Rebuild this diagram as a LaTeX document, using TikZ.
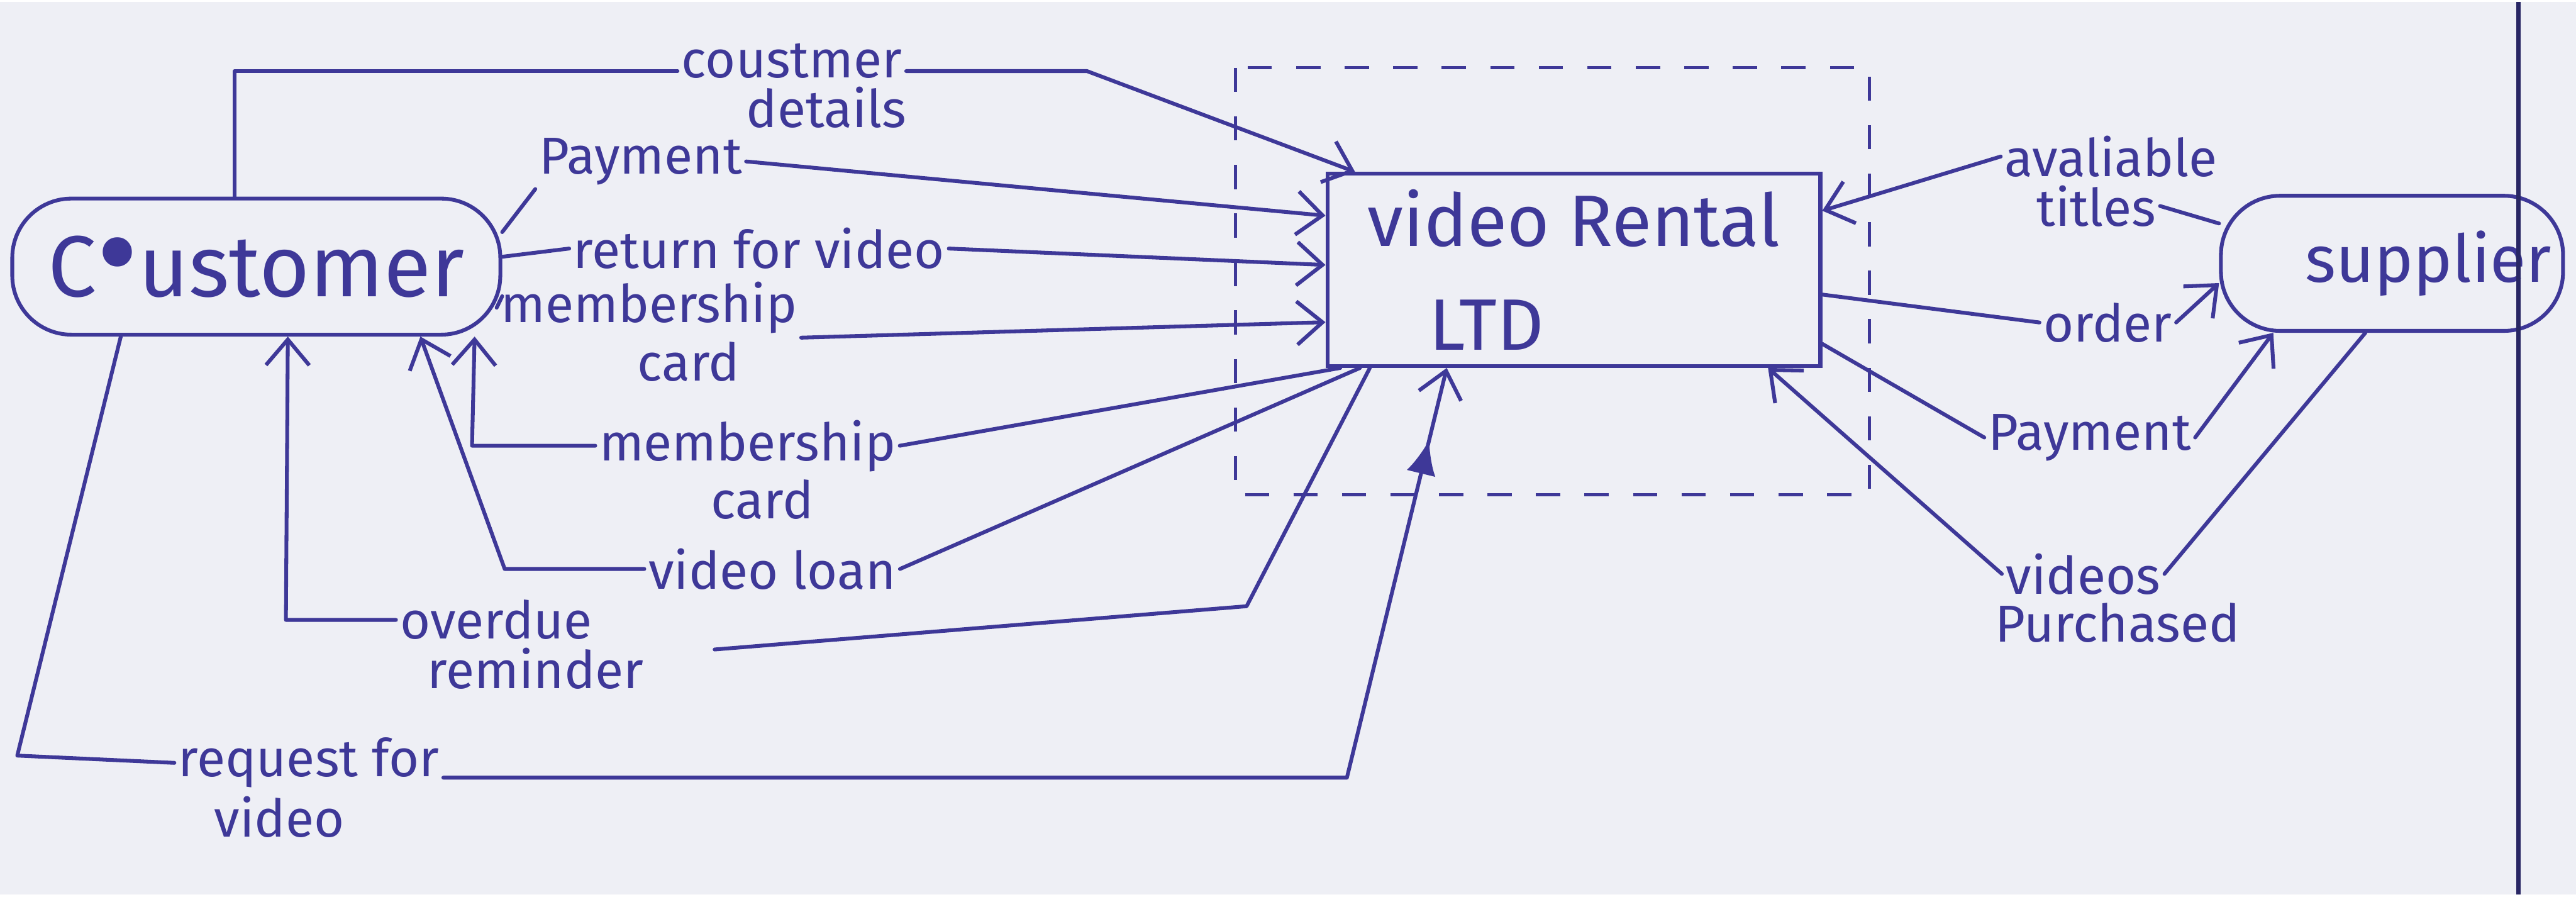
\documentclass[tikz,border=0pt]{standalone}
\usepackage{fontspec}
\setmainfont{Fira Sans}
\usetikzlibrary{arrows.meta,decorations.markings}
\definecolor{ink}{RGB}{62,56,152}
\definecolor{paper}{RGB}{238,239,245}
\definecolor{margin}{RGB}{40,38,100}

\begin{document}
\begin{tikzpicture}[x=0.016667cm, y=-0.016667cm,
  every node/.style={text=ink, font=\fontsize{15}{16}\selectfont, inner sep=1pt},
  every label/.style={label distance=0pt},
  box/.style={draw=ink, line width=1.1pt, font=\fontsize{25}{28}\selectfont},
  flow/.style={draw=ink, line width=1.1pt, line cap=round, line join=round},
  >={Straight Barb[length=2.6mm,width=4.4mm]}]
\fill[paper] (0,0) rectangle (1568,543);

\node[box, rounded corners=0.6cm, minimum width=4.95cm, minimum height=1.38cm] (cust) at (156,161) {C\scalebox{1.5}{\textbullet}ustomer};
\node[box, minimum width=5cm, minimum height=1.95cm, align=center, font=\fontsize{21}{30}\selectfont] (vrl) at (958,163) {video Rental\\LTD\hspace*{1.77cm}};
\node[box, rounded corners=0.6cm, minimum width=3.47cm, minimum height=1.37cm, font=\fontsize{19}{22}\selectfont] (sup) at (1456,159) {\hspace*{0.74cm}supplier};

\node[label={[xshift=0.35cm]below:details}] (cdet) at (482,36) {coustmer};
\node (pay) at (390,97) {Payment};
\node (ret) at (462,150) {return for video};
\node[label={[xshift=0.4cm]below:card}] (memin) at (395,186) {membership};
\node[label={[xshift=0.15cm]below:card}] (memout) at (455,270) {membership};
\node (loan) at (470,345) {video loan};
\node[label={[xshift=0.4cm]below:reminder}] (over) at (302,376) {overdue};
\node[label={[xshift=-0.3cm]below:video}] (req) at (188,463) {request for};
\node[label={[name=titlb, xshift=-0.15cm]below:titles}] (titl) at (1285,94) {avaliable};
\node (ord) at (1283,195) {order};
\node (paysup) at (1272,265) {Payment};
\node[label={[xshift=0.35cm]below:Purchased}] (vpur) at (1268,348) {videos};

\draw[ink, line width=0.9pt, dash pattern=on 7pt off 7pt] (752,40) rectangle (1138,300);
\draw[margin, line width=1.2pt] (1533,0) -- (1533,543);

\draw[flow] ([xshift=-0.22cm]cust.north) |- ([yshift=-0.1cm]cdet.west);
\draw[flow, ->] ([yshift=-0.1cm]cdet.east) -- ++(110,0) -- ([xshift=0.3cm]vrl.north west);
\draw[flow] ([yshift=0.35cm]cust.east) -- (pay.south west);
\draw[flow, ->] (pay.east) -- ([yshift=0.55cm]vrl.west);
\draw[flow] ([yshift=0.1cm]cust.east) -- (ret.west);
\draw[flow, ->] (ret.east) -- ([yshift=0.05cm]vrl.west);
\draw[flow] ([yshift=-0.3cm]cust.east) -- (memin.west);
\draw[flow, ->] (memin.south east) -- ([yshift=-0.53cm]vrl.west);
\draw[flow] ([xshift=0.15cm]vrl.south west) -- (memout.east);
\draw[flow, ->] (memout.west) -- ++(-75,0) -- ([xshift=-0.28cm]cust.south east);
\draw[flow] ([xshift=0.35cm]vrl.south west) -- (loan.east);
\draw[flow, ->] (loan.west) -- ++(-85,0) -- ([xshift=-0.83cm]cust.south east);
\draw[flow] ([xshift=0.45cm]vrl.south west) -- ++(-75,145) -- ([xshift=1.2cm, yshift=-0.3cm]over.east);
\draw[flow, ->] (over.west) -- ++(-67,0) -- ([xshift=0.32cm]cust.south);
\draw[flow] ([xshift=1.12cm]cust.south west) -- ++(-63,255) -- (req.west);
\draw[flow, ->, postaction={decorate, decoration={markings, mark=at position -0.75cm with {\arrow{Latex[length=3.5mm,width=3mm]}}}}] ([yshift=-0.15cm]req.east) -- ++(550,0) -- ([xshift=1.23cm]vrl.south west);

\draw[flow] (titlb.east) -- ([yshift=-0.3cm]sup.north west);
\draw[flow, ->] (titl.west) -- ([yshift=0.6cm]vrl.east);
\draw[flow] ([yshift=-0.25cm]vrl.east) -- (ord.west);
\draw[flow, ->] (ord.east) -- ([yshift=-0.2cm]sup.west);
\draw[flow] ([yshift=-0.75cm]vrl.east) -- (paysup.west);
\draw[flow, ->] (paysup.east) -- ([xshift=0.55cm]sup.south west);
\draw[flow] ([xshift=-0.27cm]sup.south) -- (vpur.east);
\draw[flow, ->] (vpur.west) -- ([xshift=-0.55cm]vrl.south east);
\end{tikzpicture}
\end{document}
